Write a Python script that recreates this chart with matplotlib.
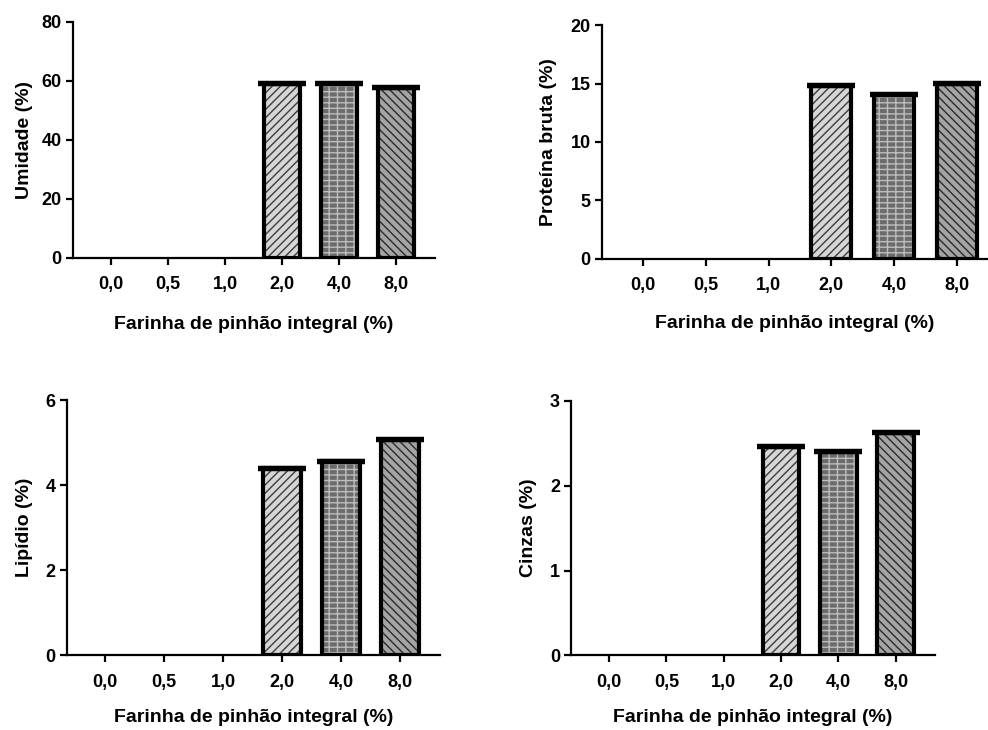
import numpy as np
import matplotlib.pyplot as plt

plt.rcParams['font.family'] = ['Liberation Sans', 'DejaVu Sans']
plt.rcParams['font.weight'] = 'bold'
plt.rcParams['hatch.linewidth'] = 1.0

# ==================================================
# Data
# ==================================================
niveis = ['0,0', '0,5', '1,0', '2,0', '4,0', '8,0']

umidade = [0, 0, 0, 58.9, 58.9, 57.6]
proteina = [0, 0, 0, 14.8, 14.05, 15.0]
lipidio = [0, 0, 0, 4.39, 4.56, 5.07]
cinzas = [0, 0, 0, 2.46, 2.40, 2.625]

sd_umidade = [0, 0, 0, 0.15, 0.15, 0.15]
sd_proteina = [0, 0, 0, 0.04, 0.04, 0.04]
sd_lipidio = [0, 0, 0, 0.01, 0.01, 0.01]
sd_cinzas = [0, 0, 0, 0.005, 0.005, 0.005]

xlabel = 'Farinha de pinhão integral (%)'

# face, hatch, hatch colour for the three bars
estilos = [
    ('#d6d6d6', '////', '#3c3c3c'),
    ('#6c6c6c', '---||', '#bdbdbd'),
    ('#a4a4a4', '\\\\\\\\', '#2a2a2a'),
]


def painel(rect, xlim, vals, sd, ylim, yticks, ylabel, ylpad, xlpad):
    ax = fig.add_axes(rect)
    x = np.arange(len(niveis))
    k = 0
    for i, v in enumerate(vals):
        if v == 0:
            continue
        face, hatch, hc = estilos[k]
        k += 1
        ax.bar(x[i], v, width=0.64, color=face, hatch=hatch,
               edgecolor=hc, linewidth=0, zorder=2)
        ax.bar(x[i], v, width=0.64, fill=False, edgecolor='black',
               linewidth=3, zorder=3)
        ax.errorbar(x[i], v, yerr=sd[i], fmt='none', ecolor='black',
                    elinewidth=3, capsize=17, capthick=3.2, zorder=4)
    ax.set_xlim(*xlim)
    ax.set_ylim(*ylim)
    ax.set_xticks(x)
    ax.set_xticklabels(niveis)
    ax.set_yticks(yticks)
    ax.spines['top'].set_visible(False)
    ax.spines['right'].set_visible(False)
    ax.spines['left'].set_linewidth(1.6)
    ax.spines['bottom'].set_linewidth(1.6)
    ax.tick_params(width=1.6, length=5, labelsize=13, pad=3)
    ax.tick_params(axis='x', pad=8.5)
    ax.set_xlabel(xlabel, fontsize=14, fontweight='bold', labelpad=xlpad)
    ax.set_ylabel(ylabel, fontsize=14, fontweight='bold', labelpad=ylpad)
    for lab in ax.get_xticklabels() + ax.get_yticklabels():
        lab.set_fontweight('bold')
    return ax


fig = plt.figure(figsize=(9.88, 7.3), dpi=100)

painel([0.0736, 0.647, 0.3667, 0.3233], (-0.672, 5.684), umidade, sd_umidade,
       (0, 80), [0, 20, 40, 60, 80], 'Umidade (%)', 6, 16)
painel([0.609, 0.6456, 0.391, 0.320], (-0.663, 5.497), proteina, sd_proteina,
       (0, 20), [0, 5, 10, 15, 20], 'Proteína bruta (%)', 10, 15)
painel([0.0675, 0.1027, 0.3778, 0.3493], (-0.649, 5.678), lipidio, sd_lipidio,
       (0, 6), [0, 2, 4, 6], 'Lipídio (%)', 9, 13)
painel([0.578, 0.1023, 0.3684, 0.3484], (-0.663, 5.69), cinzas, sd_cinzas,
       (0, 3), [0, 1, 2, 3], 'Cinzas (%)', 9, 13)

plt.savefig('out.png', dpi=100)
